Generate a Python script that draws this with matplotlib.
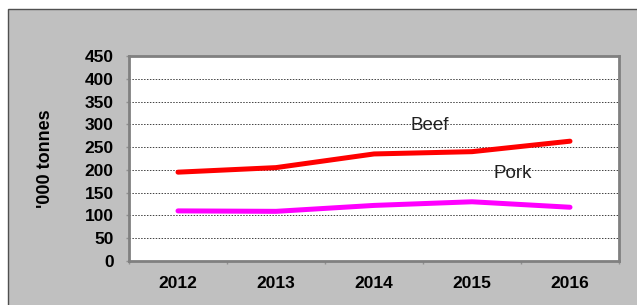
import matplotlib
matplotlib.use("Agg")
import matplotlib.pyplot as plt
from matplotlib.patches import Rectangle
from matplotlib.ticker import FixedLocator, NullFormatter

plt.rcParams["font.family"] = ["Liberation Sans", "DejaVu Sans"]

years = ["2012", "2013", "2014", "2015", "2016"]
beef = [195, 205, 235, 240, 263]
pork = [110, 109, 122, 130, 118]
y_ticks = list(range(0, 451, 50))

fig = plt.figure(figsize=(6.37, 3.05), dpi=100)
fig.patch.set_facecolor("white")

# grey chart area frame
fig.patches.append(Rectangle((8 / 637, -0.01), 1.0, (305 - 9) / 305 + 0.01,
                             transform=fig.transFigure, facecolor="#c0c0c0",
                             edgecolor="#505050", linewidth=1.0, zorder=-5))

ax = fig.add_axes([129 / 637, 44 / 305, 490 / 637, 205 / 305])
ax.set_facecolor("white")

x = list(range(len(years)))
ax.plot(x, beef, color="#ff0000", linewidth=3.6, solid_capstyle="round", zorder=3)
ax.plot(x, pork, color="#ff00ff", linewidth=3.6, solid_capstyle="round", zorder=3)

ax.text(2.57, 298, "Beef", fontsize=13.5, ha="center", va="center", color="#202020")
ax.text(3.42, 192, "Pork", fontsize=13.5, ha="center", va="center", color="#202020")

ax.set_xlim(-0.5, len(years) - 0.5)
ax.set_ylim(0, 450)
ax.set_yticks(y_ticks)
ax.set_yticklabels([str(v) for v in y_ticks], fontsize=12.5, fontweight="bold")

ax.set_xticks(x)
ax.set_xticklabels(years, fontsize=12.5, fontweight="bold")
ax.xaxis.set_minor_locator(FixedLocator([i - 0.5 for i in range(len(years) + 1)]))
ax.xaxis.set_minor_formatter(NullFormatter())
ax.tick_params(axis="x", which="major", length=0, pad=11)
ax.tick_params(axis="x", which="minor", length=2.5, width=1, color="#909090", direction="out")
ax.tick_params(axis="y", length=2.5, width=1, color="#909090", direction="out", pad=8.5)

ax.grid(axis="y", color="#404040", linestyle=(0, (1.5, 1.5)), linewidth=0.7, zorder=1)
ax.set_axisbelow(True)

for s in ax.spines.values():
    s.set_color("#808080")
    s.set_linewidth(2)

ax.set_ylabel("'000 tonnes", fontsize=13, fontweight="bold")
ax.yaxis.set_label_coords(-(129 - 54) / 490, 0.5)

fig.savefig("out.png", dpi=100)
